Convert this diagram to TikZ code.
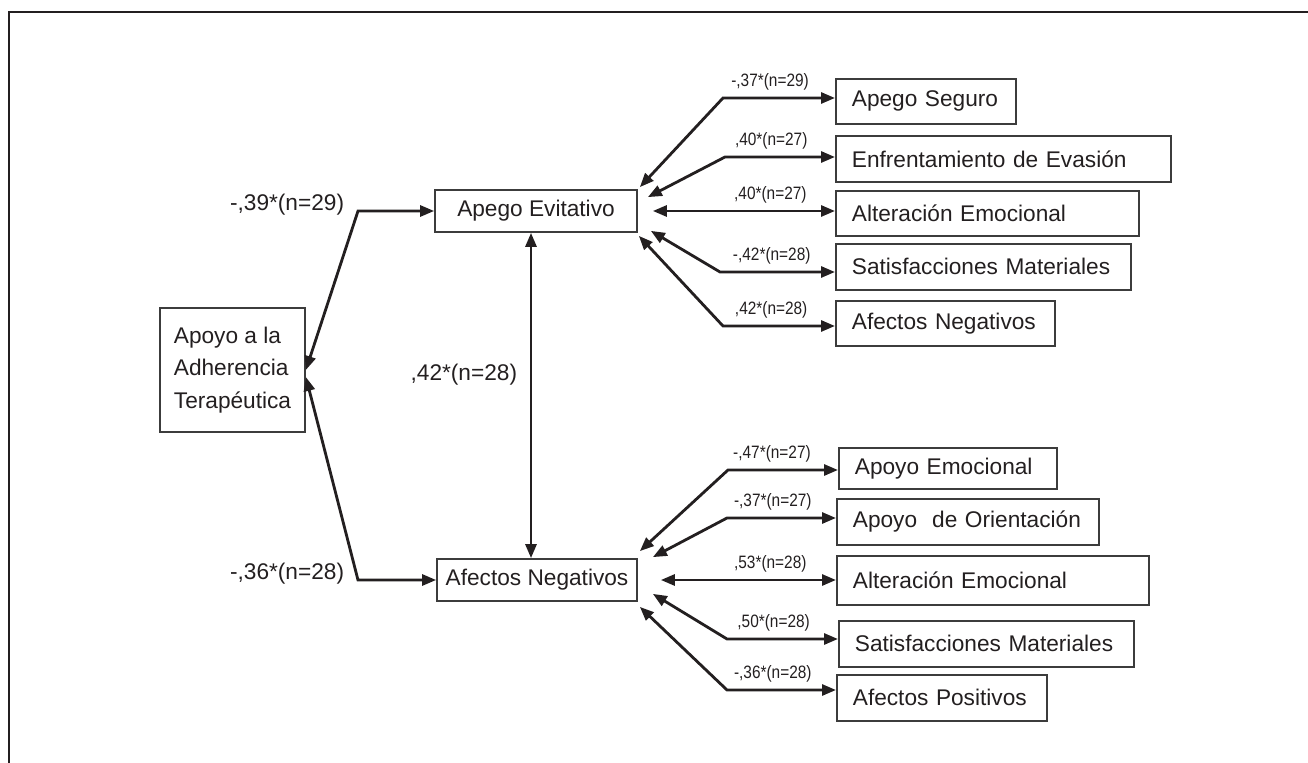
\documentclass[tikz,border=0pt]{standalone}
\usepackage{fontspec}
\setmainfont{Liberation Sans}
\newfontfamily\narrowsans[FakeStretch=0.86]{Liberation Sans}
\usetikzlibrary{arrows.meta}
\definecolor{ink}{RGB}{35,31,32}
\definecolor{edge_gray}{RGB}{60,60,60}
\tikzset{
  box/.style={draw=edge_gray, line width=1pt, text=ink, font=\fontsize{12.9}{18.7}\selectfont},
  rbox/.style={box, anchor=north west, inner xsep=0.32cm, minimum height=0.92cm, align=left, text width=#1},
  dbl/.style={{Triangle[length=0.28cm,width=0.22cm]}-{Triangle[length=0.28cm,width=0.22cm]}, line width=1.6pt, draw=ink},
  coef/.style={text=ink, font=\narrowsans\fontsize{10.2}{11}\selectfont, inner sep=1pt, above=2.5pt},
  bigcoef/.style={text=ink, font=\fontsize{12.9}{15}\selectfont, inner sep=0.25cm}
}
\begin{document}
\begin{tikzpicture}[x=0.02cm, y=-0.02cm]
\useasboundingbox (0,0) rectangle (1308,763);
\draw[ink, line width=1.7pt] (1308,12) -| (9,763);

\node[box, align=left, minimum width=2.9cm, minimum height=2.48cm] (adher) at (232.5,370) {Apoyo a la\\Adherencia\\Terap\'eutica};
\node[box, minimum width=4.04cm, minimum height=0.84cm] (evit) at (536,211) {Apego Evitativo};
\node[box, minimum width=4.0cm, minimum height=0.84cm] (negm) at (537,580) {Afectos Negativos};

\node[rbox=2.96cm, minimum height=0.9cm] (seg) at (835,78) {Apego Seguro};
\node[rbox=6.06cm] (enf) at (835,135) {Enfrentamiento de Evasi\'on};
\node[rbox=5.42cm, minimum height=0.9cm] (alt1) at (835,190) {Alteraci\'on Emocional};
\node[rbox=5.26cm] (sat1) at (835,243) {Satisfacciones Materiales};
\node[rbox=3.74cm, minimum height=0.9cm] (afneg) at (835,300) {Afectos Negativos};

\node[rbox=3.72cm, minimum height=0.82cm] (apem) at (838,447) {Apoyo Emocional};
\node[rbox=4.6cm] (apor) at (836,498) {Apoyo\ \ de Orientaci\'on};
\node[rbox=5.6cm, minimum height=0.98cm] (alt2) at (836,555) {Alteraci\'on Emocional};
\node[rbox=5.26cm] (sat2) at (838,620) {Satisfacciones Materiales};
\node[rbox=3.56cm] (afpos) at (836,674) {Afectos Positivos};

\coordinate (ka) at (358,211);
\coordinate (kb) at (358,580);
\draw[dbl] (adher.east) -- (ka) node[left, bigcoef, yshift=0.12cm] {-,39*(n=29)} -- (evit.west);
\draw[dbl] ([shift={(0,7)}]adher.east) -- (kb) node[left, bigcoef, yshift=0.12cm] {-,36*(n=28)} -- (negm.west);
\draw[dbl] ([xshift=-0.1cm]evit.south) -- ([xshift=-0.1cm]evit.south |- negm.north) node[pos=0.437, left, bigcoef] {,42*(n=28)};

\coordinate (u1) at (723,98);
\coordinate (u2) at (725,157);
\coordinate (u4) at (720,272);
\coordinate (u5) at (723,326);
\draw[dbl] ([shift={(2,-2)}]evit.north east) -- (u1) -- (u1 -| seg.west) node[coef, pos=0.42] {-,37*(n=29)};
\draw[dbl] ([shift={(10,8)}]evit.north east) -- (u2) -- (u2 -| enf.west) node[coef, pos=0.42] {,40*(n=27)};
\draw[dbl] ([xshift=0.3cm]evit.east) -- (evit.east -| alt1.west) node[coef, pos=0.645] {,40*(n=27)};
\draw[dbl] ([shift={(13,-2)}]evit.south east) -- (u4) -- (u4 -| sat1.west) node[coef, pos=0.45] {-,42*(n=28)};
\draw[dbl] ([shift={(1,3)}]evit.south east) -- (u5) -- (u5 -| afneg.west) node[coef, pos=0.43] {,42*(n=28)};

\coordinate (l1) at (728,470);
\coordinate (l2) at (727,518);
\coordinate (l4) at (727,639);
\coordinate (l5) at (727,690);
\draw[dbl] ([shift={(2,-7)}]negm.north east) -- (l1) -- (l1 -| apem.west) node[coef, pos=0.4] {-,47*(n=27)};
\draw[dbl] ([shift={(15,-1)}]negm.north east) -- (l2) -- (l2 -| apor.west) node[coef, pos=0.42] {-,37*(n=27)};
\draw[dbl] ([xshift=0.46cm]negm.east) -- (negm.east -| alt2.west) node[coef, pos=0.625] {,53*(n=28)};
\draw[dbl] ([shift={(15,-8)}]negm.south east) -- (l4) -- (l4 -| sat2.west) node[coef, pos=0.42] {,50*(n=28)};
\draw[dbl] ([shift={(2,5)}]negm.south east) -- (l5) -- (l5 -| afpos.west) node[coef, pos=0.42] {-,36*(n=28)};
\end{tikzpicture}
\end{document}
